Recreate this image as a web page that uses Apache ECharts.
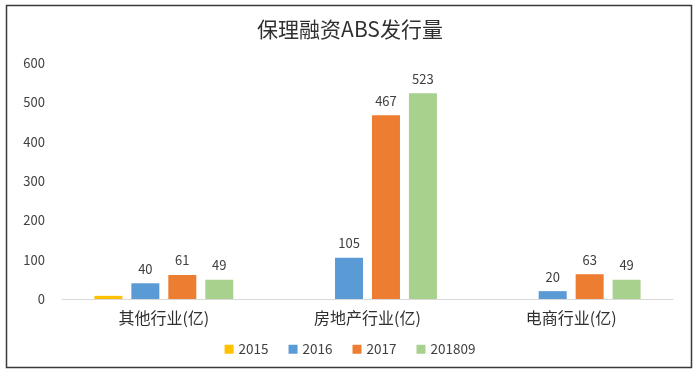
<!DOCTYPE html>
<html><head><meta charset="utf-8">
<script src="https://cdn.jsdelivr.net/npm/echarts@6/dist/echarts.min.js"></script>
<style>html,body{margin:0;padding:0;background:#fff}#c{width:700px;height:374px}</style>
</head><body><div id="c"></div>
<script>
const title = '保理融资ABS发行量';
const categories = ['其他行业(亿)', '房地产行业(亿)', '电商行业(亿)'];
const seriesNames = ['2015', '2016', '2017', '201809'];
const v2015 = [8, null, null];
const v2016 = [40, 105, 20];
const v2017 = [61, 467, 63];
const v201809 = [49, 523, 49];
const yTicks = [0, 100, 200, 300, 400, 500, 600];

const colors = ['#FFC000', '#5B9BD5', '#ED7D31', '#A9D18E'];
const font = '"Noto Sans CJK SC", "Noto Sans", sans-serif';
const values = [v2015, v2016, v2017, v201809];

const chart = echarts.init(document.getElementById('c'), null, {renderer: 'canvas'});
chart.setOption({
  animation: false,
  backgroundColor: '#fff',
  color: colors,
  textStyle: {fontFamily: font},
  title: {text: title, left: 'center', top: 14,
    textStyle: {fontFamily: font, fontSize: 21, fontWeight: 'normal', color: '#303030'}},
  graphic: [{type: 'rect', shape: {x: 6.5, y: 5.5, width: 685, height: 362},
    style: {fill: 'none', stroke: '#3a3a3a', lineWidth: 1.5}, silent: true}],
  legend: {bottom: 13, left: 'center', itemWidth: 9, itemHeight: 9, itemGap: 20,
    icon: 'rect', textStyle: {fontFamily: font, fontSize: 13.5, color: '#404040'},
    data: seriesNames},
  grid: {left: 62, right: 27, top: 63, bottom: 75},
  xAxis: {type: 'category', data: categories,
    axisLine: {lineStyle: {color: '#d9d9d9'}}, axisTick: {show: false},
    axisLabel: {fontFamily: font, fontSize: 16, color: '#303030', margin: 11}},
  yAxis: {type: 'value', min: yTicks[0], max: yTicks[yTicks.length - 1], interval: 100,
    splitLine: {show: false}, axisLine: {show: false}, axisTick: {show: false},
    axisLabel: {fontFamily: font, fontSize: 13, color: '#404040', margin: 17}},
  series: seriesNames.map((n, i) => ({
    name: n, type: 'bar', data: values[i], barWidth: 28, barGap: '32%',
    label: {show: i !== 0, position: 'top', distance: 8, fontFamily: font, fontSize: 13, color: '#404040'}
  }))
});
</script></body></html>
